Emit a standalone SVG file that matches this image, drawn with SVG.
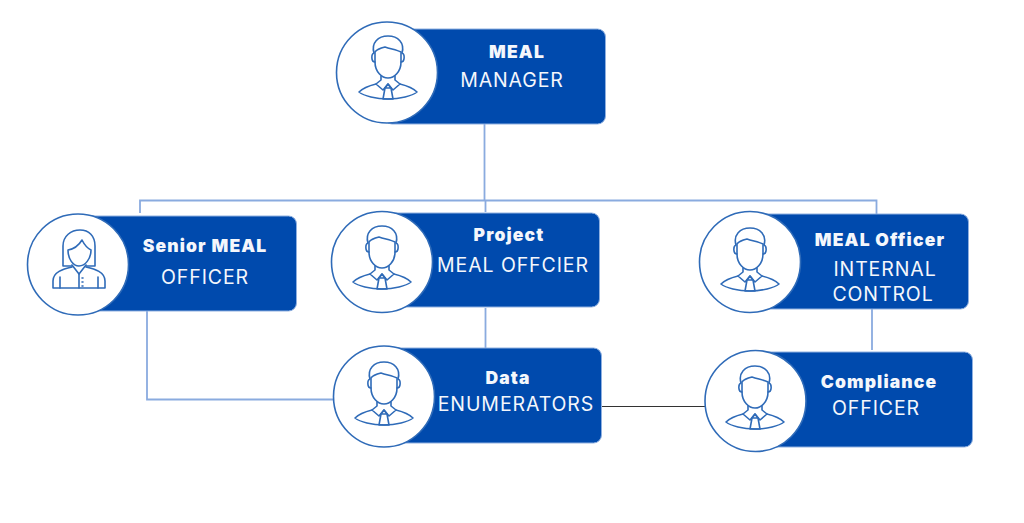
<svg xmlns="http://www.w3.org/2000/svg" width="1024" height="523" viewBox="0 0 1024 523">
<style>
.box{fill:#004aad;stroke:#8fb0e0;stroke-width:1}
.disc{fill:#fff;stroke:#2f6bb8;stroke-width:1.6}
.ic{fill:none;stroke:#2f6bb8;stroke-width:1.6;stroke-linejoin:round;stroke-linecap:round}
.l{fill:none;stroke:#8aabdf;stroke-width:1.8}
.k{fill:none;stroke:#333;stroke-width:1}
text{fill:#f4f7fc;text-anchor:middle}
.b{font-family:"Inter","Liberation Sans",sans-serif;font-weight:900;font-size:17.500px;letter-spacing:1.15px}
.r{font-family:"Inter","Liberation Sans",sans-serif;font-weight:400;font-size:19.500px;letter-spacing:.9px}
</style>
<defs>
<g id="man" class="ic">
<path d="M-13,-24V-14C-13,-4 -6,2 0,2C6,2 13,-4 13,-14V-24C9,-26 3,-27 -3,-29C-7,-28 -11,-27 -13,-24Z"/>
<path d="M-13,-14C-17,-14 -17,-22 -14,-23C-17,-33 -10,-40 0,-40C10,-40 17,-33 14,-23C17,-22 17,-14 13,-14"/>
<path d="M-7,0V4L-12,8L-5,14L0,8L5,14L12,8L7,4V0"/>
<path d="M-12,8C-20,10 -26,13 -29,16C-24,20 -12,23 0,23C12,23 24,20 29,16C26,13 20,10 12,8"/>
<path d="M-3,12H3L5,23H-5ZM0,8L-3,12M0,8L3,12"/>
</g>
<g id="woman" class="ic">
<path d="M-7,2H-16V-18C-16,-28 -8,-34 1,-34C10,-34 16,-28 16,-18V2H7"/>
<path d="M-11,-14C-5,-15 0,-19 3,-24C5,-20 8,-16 12,-14C12,-5 6,2 0,2C-6,2 -11,-5 -11,-14Z"/>
<path d="M-7,1L0,10L7,1"/>
<path d="M-7,3C-16,5 -26,8 -26,17V24H26V17C26,8 16,5 7,3"/>
<path d="M-19,13V24M19,13V24M0,10V24"/>
<path d="M3,14H4M3,18H4M3,22H4"/>
</g>
</defs>
<g id="connectors">
<path class="l" d="M484.500,124V200M140,213V200.500H876.500V214M485.500,200V212M485.500,308V348M147,310V399.500H333M872,309V350"/>
<path class="k" d="M601,406.500H705"/>
</g>
<g id="meal-manager">
<rect class="box" x="384" y="29" width="221.500" height="95" rx="8"/>
<circle class="disc" cx="387" cy="72.500" r="50.500"/>
<use href="#man" x="388" y="76"/>
<text class="b" x="517" y="58">MEAL</text>
<text class="r" x="512" y="87">MANAGER</text>
</g>
<g id="senior-meal-officer">
<rect class="box" x="80" y="216" width="216.500" height="95" rx="8"/>
<circle class="disc" cx="78" cy="264.500" r="50.500"/>
<use href="#woman" x="79" y="264"/>
<text class="b" x="205" y="252">Senior MEAL</text>
<text class="r" x="205" y="284">OFFICER</text>
</g>
<g id="project-meal-officer">
<rect class="box" x="380" y="213" width="219.500" height="94" rx="8"/>
<circle class="disc" cx="382" cy="262" r="50.500"/>
<use href="#man" x="382" y="266"/>
<text class="b" x="509" y="241">Project</text>
<text class="r" x="513" y="272">MEAL OFFCIER</text>
</g>
<g id="meal-officer-internal-control">
<rect class="box" x="750" y="214" width="218.500" height="95" rx="8"/>
<circle class="disc" cx="750" cy="262" r="50.500"/>
<use href="#man" x="750" y="268"/>
<text class="b" x="880" y="246">MEAL Officer</text>
<text class="r" x="885" y="276">INTERNAL</text>
<text class="r" x="883" y="301">CONTROL</text>
</g>
<g id="data-enumerators">
<rect class="box" x="382" y="348" width="219.500" height="95" rx="8"/>
<circle class="disc" cx="384" cy="396.500" r="50.500"/>
<use href="#man" x="384" y="402"/>
<text class="b" x="508" y="384">Data</text>
<text class="r" x="516" y="411">ENUMERATORS</text>
</g>
<g id="compliance-officer">
<rect class="box" x="754" y="352" width="218.500" height="95" rx="8"/>
<circle class="disc" cx="755.500" cy="401" r="50.500"/>
<use href="#man" x="755" y="406"/>
<text class="b" x="879" y="388">Compliance</text>
<text class="r" x="876" y="415">OFFICER</text>
</g>
</svg>
